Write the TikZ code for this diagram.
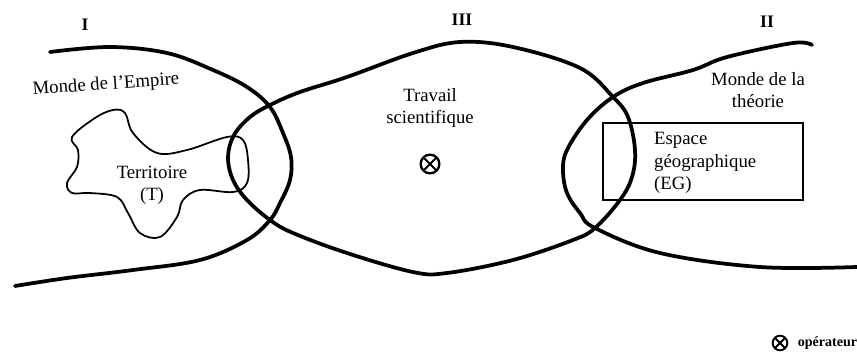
\documentclass[tikz,border=0pt]{standalone}
\usepackage{fontspec}
\setmainfont{Liberation Serif}
\usetikzlibrary{positioning}
\tikzset{
  monde/.style={line width=3.2pt, line cap=round, line join=round},
  blob/.style={line width=1.5pt, line join=round},
  cadre/.style={line width=1.3pt},
  txt/.style={font=\fontsize{16}{19}\selectfont, align=center, inner sep=0pt},
  num/.style={font=\fontsize{15}{17}\selectfont\bfseries, inner sep=0pt},
  oper/.style={circle, draw, line width=2pt, minimum size=5.6mm, inner sep=0pt,
    path picture={\draw[line width=1.6pt] (path picture bounding box.north west) -- (path picture bounding box.south east)
      (path picture bounding box.north east) -- (path picture bounding box.south west);}},
}
\begin{document}
\begin{tikzpicture}[x=0.3mm, y=-0.3mm]
\useasboundingbox (0,0) rectangle (857,362);
% I : monde de l'Empire
\draw[monde] plot[smooth, tension=0.6] coordinates {(50,52) (110,47) (167,53) (213,70) (247,87) (270,107) (283,133) (291,157) (290,180) (280,203) (270,220) (247,240) (200,260) (133,270) (67,278) (15,286)};
% III : travail scientifique
\draw[monde] plot[smooth cycle, tension=0.6] coordinates {(300,92) (347,77) (413,53) (460,42) (513,47) (580,68) (613,97) (628,117) (635,150) (632,177) (620,200) (595,228) (573,240) (513,260) (447,273) (413,272) (347,253) (293,233) (270,220) (247,200) (233,180) (228,157) (234,135) (250,117) (270,105)};
% II : monde de la theorie
\draw[monde] plot[smooth, tension=0.6] coordinates {(812,45) (793,43) (727,57) (693,70) (643,83) (613,97) (587,120) (567,150) (563,170) (567,193) (580,213) (595,228) (660,253) (760,267) (857,267)};
% territoire
\draw[blob] plot[smooth cycle, tension=0.6] coordinates {(72,137) (95,118) (113,110) (125,113) (133,133) (157,153) (187,150) (227,137) (243,140) (248,160) (247,183) (233,192) (200,190) (183,200) (177,217) (160,237) (140,233) (128,213) (117,197) (90,193) (72,193) (67,183) (77,167) (78,150)};
% espace geographique
\draw[cadre] (603,123) rectangle (803,200);

\node[num] (n1) at (85,25) {I};
\node[num] (n3) at (462,20) {III};
\node[num] (n2) at (767,22) {II};

\node[txt, rotate=4] (empire) at (106,85) {Monde de l'Empire};
\node[txt] (territoire) at (152,185) {Territoire\\(T)};
\node[txt] (travail) at (430,108) {Travail\\scientifique};
\node[oper] (op) at (430,164) {};
\node[txt] (theorie) at (758,90) {Monde de la\\théorie};
\node[txt, align=left, anchor=west] (espace) at (654,163) {Espace\\géographique\\(EG)};

\node[oper, minimum size=4.4mm, line width=1.6pt] (legop) at (780,343) {};
\node[font=\fontsize{12}{14}\selectfont\bfseries, inner sep=0pt, anchor=west, right=8pt of legop] (legende) {opérateur};
\end{tikzpicture}
\end{document}
